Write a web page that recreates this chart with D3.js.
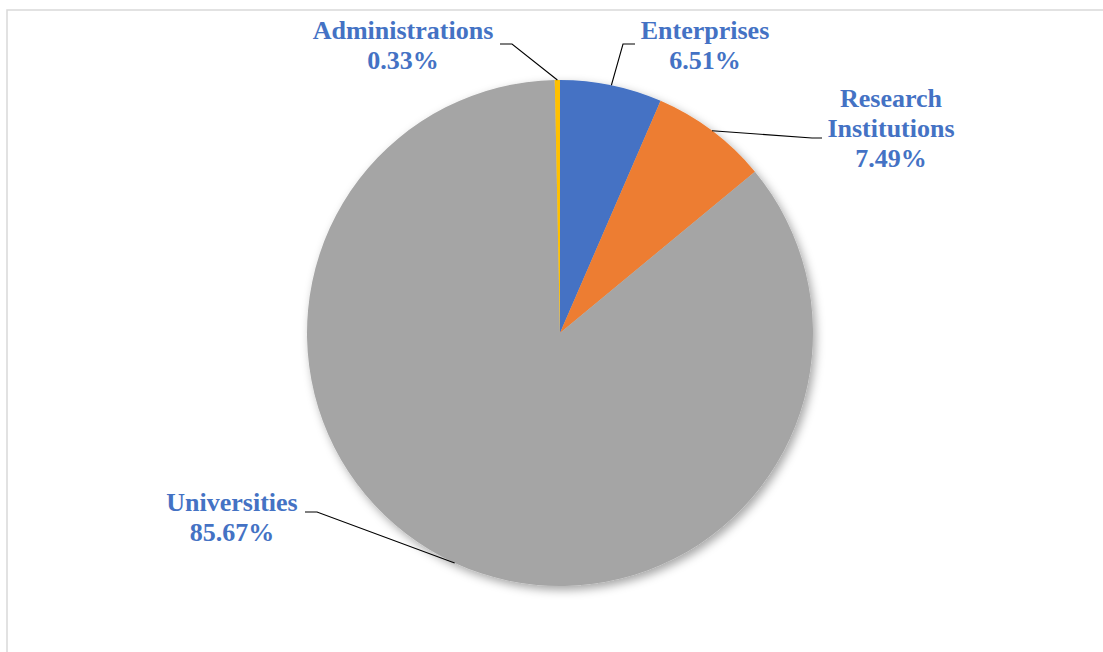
<!DOCTYPE html>
<html>
<head>
<meta charset="utf-8">
<script src="https://cdn.jsdelivr.net/npm/d3@7"></script>
<style>
  body { margin: 0; background: #fff; }
  svg { display: block; }
</style>
</head>
<body>
<svg id="chart" width="1103" height="652"></svg>
<script>
// data
const categories = ["Enterprises", "Research Institutions", "Universities", "Administrations"];
const shares = [6.51, 7.49, 85.67, 0.33];
const colors = ["#4472C4", "#ED7D31", "#A5A5A5", "#FFC000"];

// label layout: text lines, centre x, first baseline, elbow of leader, end of leader
const labelLines = [["Enterprises"], ["Research", "Institutions"], ["Universities"], ["Administrations"]];
const labelLayout = [
  { x: 705, y: 39, elbow: [623, 44], end: [635, 44] },
  { x: 891, y: 107, elbow: [812, 138], end: [822, 138] },
  { x: 232, y: 511, elbow: [317, 512], end: [305, 512] },
  { x: 403, y: 39, elbow: [512, 44], end: [500, 44] }
];

const svg = d3.select("#chart");
const cx = 560, cy = 333, r = 253;

// chart area frame, cut by the window on the right and bottom
svg.append("rect")
  .attr("x", 7).attr("y", 10)
  .attr("width", 1200).attr("height", 800)
  .attr("fill", "none")
  .attr("stroke", "#D9D9D9")
  .attr("stroke-width", 1.5);

const defs = svg.append("defs");
const f = defs.append("filter").attr("id", "shadow")
  .attr("x", "-20%").attr("y", "-20%").attr("width", "140%").attr("height", "140%");
f.append("feDropShadow")
  .attr("dx", 3).attr("dy", 4)
  .attr("stdDeviation", 5)
  .attr("flood-color", "#000")
  .attr("flood-opacity", 0.35);

const pie = d3.pie().sort(null).value(d => d)(shares);
const arc = d3.arc().innerRadius(0).outerRadius(r);

const g = svg.append("g").attr("transform", `translate(${cx},${cy})`);

g.append("g").attr("filter", "url(#shadow)")
  .selectAll("path")
  .data(pie)
  .join("path")
  .attr("d", arc)
  .attr("fill", (d, i) => colors[i]);

// leader lines from the middle of each slice edge
const lines = svg.append("g");
pie.forEach((d, i) => {
  const a = (d.startAngle + d.endAngle) / 2;
  const p = [cx + r * Math.sin(a), cy - r * Math.cos(a)];
  const L = labelLayout[i];
  lines.append("path")
    .attr("d", d3.line()([p, L.elbow, L.end]))
    .attr("fill", "none")
    .attr("stroke", "#000")
    .attr("stroke-width", 1.1);
});

// labels
const labels = svg.append("g")
  .attr("font-family", "'Liberation Serif', 'Times New Roman', serif")
  .attr("font-weight", "bold")
  .attr("font-size", 26)
  .attr("fill", "#4472C4")
  .attr("text-anchor", "middle");

categories.forEach((c, i) => {
  const L = labelLayout[i];
  const t = labels.append("text").attr("x", L.x).attr("y", L.y);
  const rows = labelLines[i].concat([shares[i].toFixed(2) + "%"]);
  rows.forEach((s, j) => {
    t.append("tspan").attr("x", L.x).attr("dy", j === 0 ? 0 : 30).text(s);
  });
});
</script>
</body>
</html>
